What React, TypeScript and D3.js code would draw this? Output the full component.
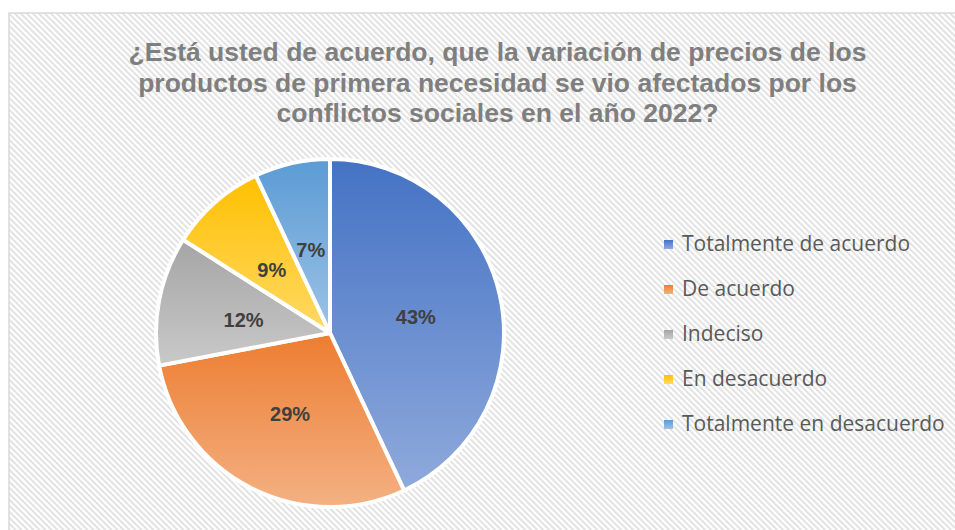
import React from "react";
import * as d3 from "d3";

const categories = [
  "Totalmente de acuerdo",
  "De acuerdo",
  "Indeciso",
  "En desacuerdo",
  "Totalmente en desacuerdo",
];
const values = [43, 29, 12, 9, 7];
const labels = ["43%", "29%", "12%", "9%", "7%"];
const colorsTop = ["#4472C4", "#ED7D31", "#A5A5A5", "#FFC000", "#5B9BD5"];
const colorsBottom = ["#8FAADC", "#F4B183", "#C9C9C9", "#FFD966", "#9DC3E6"];
const titleLines = [
  "¿Está usted de acuerdo, que la variación de precios de los",
  "productos de primera necesidad se vio afectados por los",
  "conflictos sociales en el año 2022?",
];

const W = 955;
const H = 530;

export default function App() {
  const cx = 330;
  const cy = 333;
  const R = 174;
  const pie = d3.pie<number>().sort(null).value((d) => d);
  const arcs = pie(values);
  const arcGen = d3.arc<d3.PieArcDatum<number>>().innerRadius(0).outerRadius(R);
  const labelArc = d3.arc<d3.PieArcDatum<number>>().innerRadius(88).outerRadius(88);

  return (
    <svg width={W} height={H} style={{ display: "block", position: "fixed", left: 0, top: 0 }}>
      <defs>
        <pattern
          id="hatch"
          width="4.24"
          height="4.24"
          patternUnits="userSpaceOnUse"
          patternTransform="rotate(-45)"
        >
          <rect width="4.24" height="4.24" fill="#ffffff" />
          <rect width="1.9" height="4.24" fill="#e1e1e1" />
        </pattern>
        {colorsTop.map((c, i) => (
          <linearGradient key={i} id={`g${i}`} x1="0" y1="0" x2="0" y2="1">
            <stop offset="0" stopColor={c} />
            <stop offset="1" stopColor={colorsBottom[i]} />
          </linearGradient>
        ))}
      </defs>
      <rect x={0} y={0} width={W} height={H} fill="#ffffff" />
      <rect x={9} y={13} width={W + 10} height={H + 10} fill="url(#hatch)" stroke="#d9d9d9" strokeWidth={1.5} />
      <g fontFamily="'Liberation Sans', Arial, sans-serif" fontWeight="bold" fontSize={26.5} fill="#7f7f7f" textAnchor="middle">
        {titleLines.map((t, i) => (
          <text key={i} x={497.5} y={61 + i * 30.5}>
            {t}
          </text>
        ))}
      </g>
      <g transform={`translate(${cx},${cy})`}>
        {arcs.map((a, i) => (
          <path key={i} d={arcGen(a) || ""} fill={`url(#g${i})`} stroke="#ffffff" strokeWidth={4} strokeLinejoin="round" />
        ))}
        {arcs.map((a, i) => {
          const [x, y] = labelArc.centroid(a);
          return (
            <text
              key={i}
              x={x}
              y={y}
              dy="0.5em"
              textAnchor="middle"
              fontFamily="'Liberation Sans', Arial, sans-serif"
              fontWeight="bold"
              fontSize={20}
              fill="#404040"
            >
              {labels[i]}
            </text>
          );
        })}
      </g>
      <g fontFamily="'Open Sans', sans-serif" fontSize={21} fill="#595959">
        {categories.map((c, i) => (
          <g key={i} transform={`translate(664,${251 + i * 45})`}>
            <rect x={0} y={-11} width={9} height={9} fill={`url(#g${i})`} />
            <text x={18} y={0}>
              {c}
            </text>
          </g>
        ))}
      </g>
    </svg>
  );
}
